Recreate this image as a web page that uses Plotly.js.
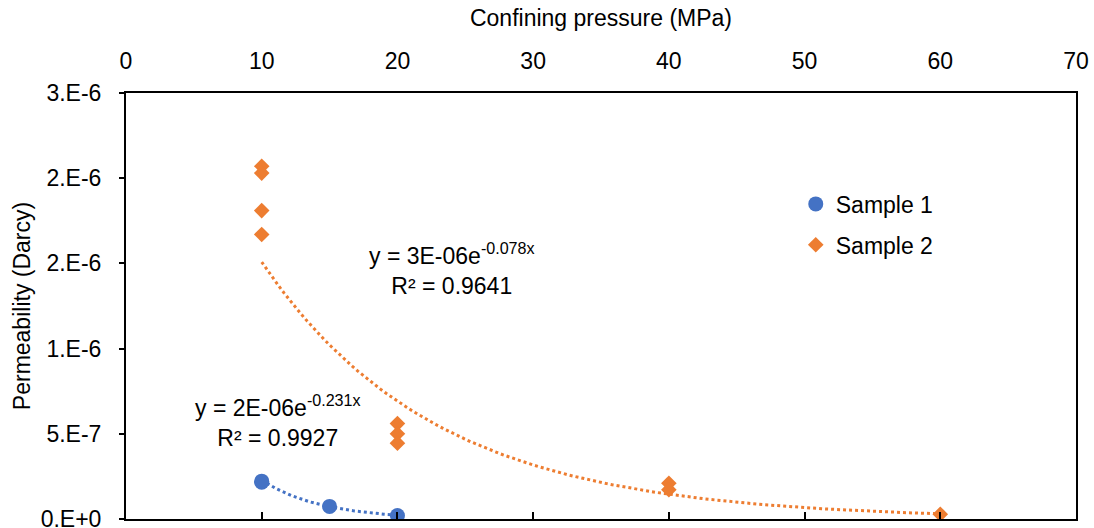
<!DOCTYPE html>
<html>
<head>
<meta charset="utf-8">
<script src="https://cdn.plot.ly/plotly-3.0.1.min.js"></script>
<style>
html,body{margin:0;padding:0;background:#fff;}
#chart{width:1094px;height:528px;}
</style>
</head>
<body>
<div id="chart"></div>
<script>
// ---- data ----
const seriesNames = ["Sample 1", "Sample 2"];
const pressure1 = [10, 10, 15, 20];
const perm1 = [2.22e-7, 2.16e-7, 7.4e-8, 2.0e-8];
const pressure2 = [10, 10, 10, 10, 20, 20, 20, 40, 40, 60];
const perm2 = [2.07e-6, 2.03e-6, 1.81e-6, 1.67e-6, 5.6e-7, 5.0e-7, 4.45e-7, 2.1e-7, 1.72e-7, 2.8e-8];

// exponential trendlines y = a*exp(b*x) (Excel fit)
const trend1 = {a: 2.3e-6, b: -0.231, from: 10, to: 20, label: "y = 2E-06e<sup>-0.231x</sup><br>R² = 0.9927"};
const trend2 = {a: 3.29e-6, b: -0.078, from: 10, to: 60, label: "y = 3E-06e<sup>-0.078x</sup><br>R² = 0.9641"};

const xTicks = [0, 10, 20, 30, 40, 50, 60, 70];
const yTickVals = [0, 5e-7, 1e-6, 1.5e-6, 2e-6, 2.5e-6];
const yTickText = ["0.E+0", "5.E-7", "1.E-6", "2.E-6", "2.E-6", "3.E-6"];

const blue = "#4472C4", orange = "#ED7D31";
const FONT = "Liberation Sans, Arial, sans-serif";
const FS = 23;

function curve(t) {
  const xs = [], ys = [];
  const n = 120;
  for (let i = 0; i <= n; i++) {
    const x = t.from + (t.to - t.from) * i / n;
    xs.push(x); ys.push(t.a * Math.exp(t.b * x));
  }
  return {xs, ys};
}
const c1 = curve(trend1), c2 = curve(trend2);

const traces = [
  {x: c1.xs, y: c1.ys, mode: "lines", line: {color: blue, width: 3, dash: "dot"}, showlegend: false, hoverinfo: "skip"},
  {x: c2.xs, y: c2.ys, mode: "lines", line: {color: orange, width: 3, dash: "dot"}, showlegend: false, hoverinfo: "skip"},
  {x: pressure1, y: perm1, name: seriesNames[0], mode: "markers", legendgroup: "a",
   marker: {color: blue, size: 15, symbol: "circle"}},
  {x: pressure2, y: perm2, name: seriesNames[1], mode: "markers", legendgroup: "b",
   marker: {color: orange, size: 12, symbol: "diamond"}}
];

const layout = {
  width: 1094, height: 528,
  margin: {l: 126, r: 18, t: 93, b: 9},
  paper_bgcolor: "#fff", plot_bgcolor: "#fff",
  font: {family: FONT, size: FS, color: "#000"},
  showlegend: true,
  legend: {x: 0.705, y: 0.79, xanchor: "left", yanchor: "top", bgcolor: "rgba(0,0,0,0)",
           font: {family: FONT, size: FS, color: "#000"}, tracegroupgap: 8, traceorder: "grouped"},
  xaxis: {range: [0, 70], tickvals: xTicks, showticklabels: false, ticks: "inside", ticklen: 7, tickwidth: 2,
          tickcolor: "#000", showline: true, linecolor: "#000", linewidth: 2, mirror: true,
          showgrid: false, zeroline: false, side: "bottom", fixedrange: true},
  xaxis2: {range: [0, 70], tickvals: xTicks, ticktext: xTicks.map(String), overlaying: "x", side: "top",
           anchor: "y", showline: false, ticks: "", showgrid: false, zeroline: false, ticklabelstandoff: 18,
           tickfont: {family: FONT, size: FS, color: "#000"},
           title: {text: "Confining pressure (MPa)", font: {family: FONT, size: FS, color: "#000"}, standoff: 15}},
  yaxis: {range: [0, 2.5e-6], tickvals: yTickVals, ticktext: yTickText, ticks: "outside", ticklen: 5, tickwidth: 2,
          tickcolor: "#000", showline: true, linecolor: "#000", linewidth: 2, mirror: true,
          ticklabeloverflow: "allow", ticklabelstandoff: 13,
          showgrid: false, zeroline: false, tickfont: {family: FONT, size: FS, color: "#000"},
          title: {text: "Permeability (Darcy)", font: {family: FONT, size: FS, color: "#000"}, standoff: 4}},
  annotations: [
    {x: 24.0, y: 1.47e-6, xref: "x", yref: "y", text: trend2.label, showarrow: false, align: "center",
     font: {family: FONT, size: FS, color: "#000"}},
    {x: 11.2, y: 5.75e-7, xref: "x", yref: "y", text: trend1.label, showarrow: false, align: "center",
     font: {family: FONT, size: FS, color: "#000"}}
  ]
};

// dummy trace so xaxis2 is rendered
traces.push({x: [0], y: [null], xaxis: "x2", yaxis: "y", showlegend: false, hoverinfo: "skip", mode: "markers"});

Plotly.newPlot("chart", traces, layout, {staticPlot: true, displayModeBar: false});
</script>
</body>
</html>
